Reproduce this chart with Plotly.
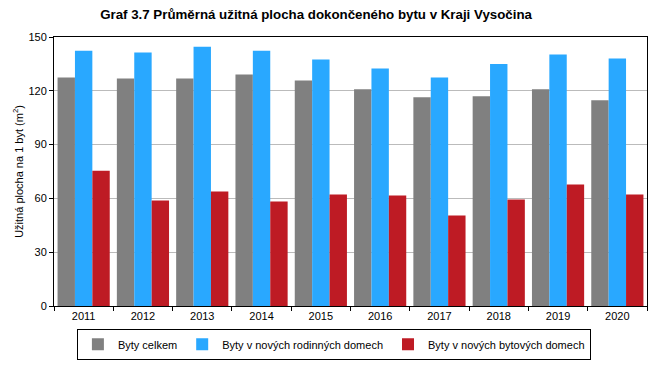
import plotly.graph_objects as go

years = ["2011", "2012", "2013", "2014", "2015", "2016", "2017", "2018", "2019", "2020"]
celkem = [127.4, 126.9, 126.9, 129.1, 125.8, 120.8, 116.4, 117.0, 120.8, 114.7]
rodinne = [142.4, 141.3, 144.6, 142.4, 137.4, 132.4, 127.4, 134.9, 140.2, 138.0]
bytove = [75.4, 58.8, 63.8, 58.3, 62.2, 61.6, 50.5, 59.4, 67.7, 62.2]

series_names = ["Byty celkem", "Byty v nových rodinných domech", "Byty v nových bytových domech"]
colors = ["#808080", "#29A8FF", "#BE1B24"]

fig = go.Figure()
for name, vals, col in zip(series_names, [celkem, rodinne, bytove], colors):
    fig.add_trace(go.Bar(x=years, y=vals, name=name, marker=dict(color=col, line=dict(width=0))))

font_main = "Liberation Sans, Arial, sans-serif"

fig.update_layout(
    width=671, height=372,
    paper_bgcolor="white", plot_bgcolor="white",
    margin=dict(l=54, r=24, t=37, b=64),
    barmode="group", bargap=0.12, bargroupgap=0,
    title=dict(text="<b>Graf 3.7 Průměrná užitná plocha dokončeného bytu v Kraji Vysočina</b>",
               x=0.471, xanchor="center", y=0.962, yanchor="middle",
               font=dict(family="Liberation Sans Narrow, Arial Narrow, " + font_main, size=13.3, color="black")),
    font=dict(family=font_main, size=11, color="black"),
    showlegend=True,
    legend=dict(orientation="h", x=0.472, xanchor="center", y=-0.085, yanchor="top",
                bordercolor="black", borderwidth=1, font=dict(size=11, family=font_main),
                itemwidth=30, tracegroupgap=0),
)
fig.update_xaxes(type="category", showline=True, linecolor="black", linewidth=1, mirror=True,
                 ticks="outside", ticklen=4, tickcolor="black", tickson="boundaries",
                 showgrid=False, tickfont=dict(size=11))
fig.update_yaxes(range=[0, 150], tickvals=[0, 30, 60, 90, 120, 150], showline=True, linecolor="black",
                 linewidth=1, mirror=True, ticks="outside", ticklen=4, tickcolor="black",
                 showgrid=True, gridcolor="#BBBBBB", gridwidth=1, zeroline=False,
                 title=dict(text="Užitná plocha na 1 byt (m<sup>2</sup>)", font=dict(size=11), standoff=2),
                 tickfont=dict(size=11))

fig.write_html("out.html", config={"displayModeBar": False},
               post_script="document.body.style.margin='0';")
